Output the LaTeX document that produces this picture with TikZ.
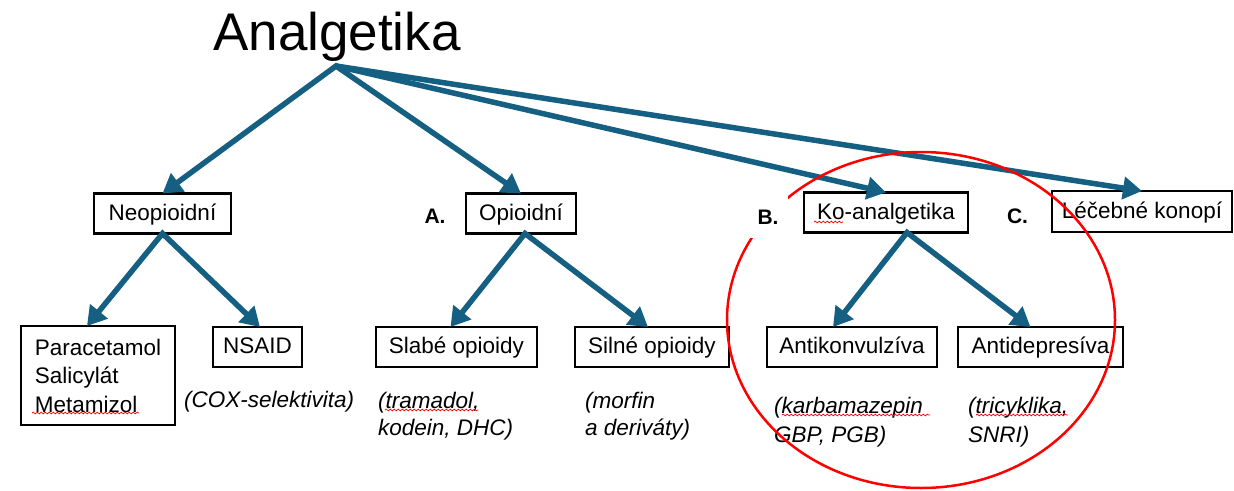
\documentclass[tikz,border=0pt]{standalone}
\usepackage{fontspec}
\setmainfont{Liberation Sans}
\usetikzlibrary{arrows.meta,decorations.pathmorphing}
\definecolor{arrowblue}{HTML}{156082}
\definecolor{markred}{HTML}{FF0000}
\begin{document}
\begin{tikzpicture}[x=1pt,y=-1pt,
  >={Triangle[length=19pt,width=22pt]},
  frame/.style={draw=black, line width=2.6pt, fill=white, inner sep=0pt, outer sep=0pt,
    font=\fontsize{22.5}{28.5}\selectfont},
  box/.style={frame, minimum height=40pt, text height=16pt, text depth=3pt},
  conn/.style={draw=arrowblue, line width=5.5pt, line join=miter},
  note/.style={anchor=base west, inner sep=0pt, font=\fontsize{22.5}{27}\selectfont\itshape},
  letter/.style={font=\fontsize{21}{25}\selectfont\bfseries, fill=white, inner sep=0pt,
    minimum width=40pt, minimum height=42pt},
  spell/.style={draw=markred, line width=0.7pt, decorate,
    decoration={snake, amplitude=0.9pt, segment length=4pt}}
]
\useasboundingbox (0,0) rectangle (1234,490);
\fill[white] (0,0) rectangle (1234,490);

% title
\node[anchor=base west, inner sep=0pt, font=\fontsize{53}{60}\selectfont] (title) at (213,50) {Analgetika};
\coordinate (apex) at (336,66);

% level 1 boxes
\node[box, minimum width=137pt] (neo) at (162.5,213.5) {Neopioidní};
\node[box, minimum width=110pt] (opio) at (521,213.5) {Opioidní};
\node[box, minimum width=164pt] (ko) at (886,212.5) {Ko-analgetika};
\node[box, minimum width=180pt, minimum height=41pt] (lec) at (1142,211.5) {Léčebné konopí};

% level 2 boxes
\node[frame, minimum width=154pt, minimum height=99pt, align=left] (para) at (98,375.5) {Paracetamol\\Salicylát\\Metamizol};
\node[box, minimum width=89pt] (nsaid) at (257.5,347) {NSAID};
\node[box, minimum width=161pt] (slabe) at (456.5,347) {Slabé opioidy};
\node[box, minimum width=154pt] (silne) at (652,347) {Silné opioidy};
\node[box, minimum width=170pt] (antik) at (852,347) {Antikonvulzíva};
\node[box, minimum width=165pt] (antid) at (1040.5,347) {Antidepresíva};

% notes
\node[note] (cox) at (184,407) {(COX-selektivita)};
\node[note] (tram1) at (378,408) {(tramadol,};
\node[note] (tram2) at (378,435) {kodein, DHC)};
\node[note] (morf1) at (585,408) {(morfin};
\node[note] (morf2) at (585,435) {a deriváty)};
\node[note] (karb1) at (774,413) {(karbamazepin};
\node[note] (karb2) at (774,442) {GBP, PGB)};
\node[note] (tric1) at (968,413) {(tricyklika,};
\node[note] (tric2) at (968,442) {SNRI)};

% spell-check marks
\draw[spell] (32,413) -- (139,413);
\draw[spell] (385,410) -- (478,410);
\draw[spell] (814,222) -- (843,222);
\draw[spell] (782,415) -- (930,415);
\draw[spell] (976,415) -- (1068,415);

% connectors
\draw[conn,<->] (neo.north) -- (apex) -- (opio.north);
\draw[conn,->] (apex) -- (ko.north);
\draw[conn,->] (apex) -- (lec.north);
\draw[conn,<->] ([xshift=-11pt]para.north) -- (neo.south) -- ([xshift=2.5pt]nsaid.north);
\draw[conn,<->] ([xshift=-6pt]slabe.north) -- ([xshift=4pt]opio.south) -- ([xshift=-4pt]silne.north);
\draw[conn,<->] ([xshift=-19pt]antik.north) -- ([xshift=21pt]ko.south) -- ([xshift=-10pt]antid.north);

% red highlight ellipse
\draw[markred, line width=2.5pt] (921,320) ellipse [x radius=194pt, y radius=168pt];

% letters
\node[letter] (la) at (435,216) {A.};
\node[letter] (lb) at (768,217) {B.};
\node[letter] (lc) at (1017.5,216) {C.};
\end{tikzpicture}
\end{document}
